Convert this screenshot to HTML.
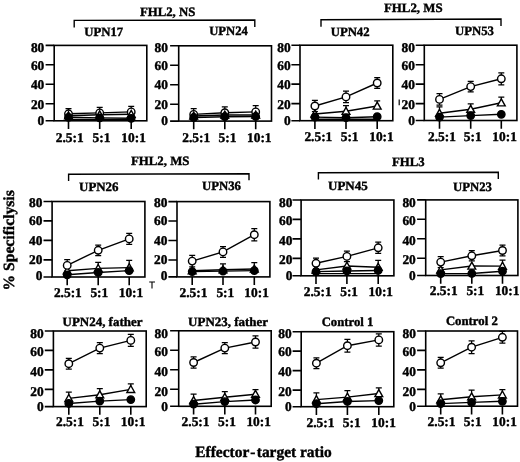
<!DOCTYPE html>
<html lang="en"><head><meta charset="utf-8"><title>Figure</title>
<style>html,body{margin:0;padding:0;background:#fff}svg text{white-space:pre;text-rendering:geometricPrecision}.t{font-family:"Liberation Serif","DejaVu Serif",serif;font-weight:bold;stroke:#000;stroke-width:.4px;stroke-linejoin:round}</style>
</head><body>
<svg width="520" height="462" viewBox="0 0 520 462" style="display:block">
<rect width="520" height="462" fill="#fff"/>
<g class="t" fill="#000">
<text x="44.3" y="51.7" font-size="13.4" text-anchor="end">80</text>
<text x="44.3" y="70.0" font-size="13.4" text-anchor="end">60</text>
<text x="44.3" y="89.3" font-size="13.4" text-anchor="end">40</text>
<text x="44.3" y="108.6" font-size="13.4" text-anchor="end">20</text>
<text x="44.3" y="125.3" font-size="13.4" text-anchor="end">0</text>
<text x="55.8" y="141.5" font-size="13.4">2.5:1</text>
<text x="92.6" y="141.5" font-size="13.4">5:1</text>
<text x="121.3" y="141.5" font-size="13.4">10:1</text>
<text x="168.0" y="51.7" font-size="13.4" text-anchor="end">80</text>
<text x="168.0" y="70.0" font-size="13.4" text-anchor="end">60</text>
<text x="168.0" y="89.3" font-size="13.4" text-anchor="end">40</text>
<text x="168.0" y="108.6" font-size="13.4" text-anchor="end">20</text>
<text x="168.0" y="125.3" font-size="13.4" text-anchor="end">0</text>
<text x="182.3" y="141.5" font-size="13.4">2.5:1</text>
<text x="218.6" y="141.5" font-size="13.4">5:1</text>
<text x="247.0" y="141.5" font-size="13.4">10:1</text>
<text x="290.6" y="51.7" font-size="13.4" text-anchor="end">80</text>
<text x="290.6" y="70.0" font-size="13.4" text-anchor="end">60</text>
<text x="290.6" y="89.3" font-size="13.4" text-anchor="end">40</text>
<text x="290.6" y="108.6" font-size="13.4" text-anchor="end">20</text>
<text x="290.6" y="125.3" font-size="13.4" text-anchor="end">0</text>
<text x="304.4" y="141.3" font-size="13.4">2.5:1</text>
<text x="340.7" y="141.3" font-size="13.4">5:1</text>
<text x="369.2" y="141.3" font-size="13.4">10:1</text>
<text x="414.9" y="51.7" font-size="13.4" text-anchor="end">80</text>
<text x="414.9" y="70.0" font-size="13.4" text-anchor="end">60</text>
<text x="414.9" y="89.3" font-size="13.4" text-anchor="end">40</text>
<text x="414.9" y="108.6" font-size="13.4" text-anchor="end">20</text>
<text x="414.9" y="125.3" font-size="13.4" text-anchor="end">0</text>
<text x="428.0" y="140.8" font-size="13.4">2.5:1</text>
<text x="463.8" y="140.8" font-size="13.4">5:1</text>
<text x="492.3" y="140.8" font-size="13.4">10:1</text>
<text x="42.4" y="206.8" font-size="13.4" text-anchor="end">80</text>
<text x="42.4" y="225.1" font-size="13.4" text-anchor="end">60</text>
<text x="42.4" y="244.6" font-size="13.4" text-anchor="end">40</text>
<text x="42.4" y="264.2" font-size="13.4" text-anchor="end">20</text>
<text x="42.4" y="280.3" font-size="13.4" text-anchor="end">0</text>
<text x="53.9" y="297.3" font-size="13.4">2.5:1</text>
<text x="90.4" y="297.3" font-size="13.4">5:1</text>
<text x="118.7" y="297.3" font-size="13.4">10:1</text>
<text x="167.4" y="206.8" font-size="13.4" text-anchor="end">80</text>
<text x="167.4" y="225.1" font-size="13.4" text-anchor="end">60</text>
<text x="167.4" y="244.6" font-size="13.4" text-anchor="end">40</text>
<text x="167.4" y="264.2" font-size="13.4" text-anchor="end">20</text>
<text x="167.4" y="280.3" font-size="13.4" text-anchor="end">0</text>
<text x="179.5" y="297.0" font-size="13.4">2.5:1</text>
<text x="216.4" y="297.0" font-size="13.4">5:1</text>
<text x="244.3" y="297.0" font-size="13.4">10:1</text>
<text x="292.4" y="206.8" font-size="13.4" text-anchor="end">80</text>
<text x="292.4" y="225.1" font-size="13.4" text-anchor="end">60</text>
<text x="292.4" y="244.6" font-size="13.4" text-anchor="end">40</text>
<text x="292.4" y="264.2" font-size="13.4" text-anchor="end">20</text>
<text x="292.4" y="280.3" font-size="13.4" text-anchor="end">0</text>
<text x="303.8" y="295.9" font-size="13.4">2.5:1</text>
<text x="340.2" y="295.9" font-size="13.4">5:1</text>
<text x="368.5" y="295.9" font-size="13.4">10:1</text>
<text x="415.8" y="206.8" font-size="13.4" text-anchor="end">80</text>
<text x="415.8" y="225.1" font-size="13.4" text-anchor="end">60</text>
<text x="415.8" y="244.6" font-size="13.4" text-anchor="end">40</text>
<text x="415.8" y="264.2" font-size="13.4" text-anchor="end">20</text>
<text x="415.8" y="280.3" font-size="13.4" text-anchor="end">0</text>
<text x="429.7" y="295.3" font-size="13.4">2.5:1</text>
<text x="466.4" y="295.3" font-size="13.4">5:1</text>
<text x="494.9" y="295.3" font-size="13.4">10:1</text>
<text x="43.7" y="337.8" font-size="13.4" text-anchor="end">80</text>
<text x="43.7" y="356.4" font-size="13.4" text-anchor="end">60</text>
<text x="43.7" y="375.9" font-size="13.4" text-anchor="end">40</text>
<text x="43.7" y="395.7" font-size="13.4" text-anchor="end">20</text>
<text x="43.7" y="411.2" font-size="13.4" text-anchor="end">0</text>
<text x="56.0" y="425.9" font-size="13.4">2.5:1</text>
<text x="92.5" y="425.9" font-size="13.4">5:1</text>
<text x="120.8" y="425.9" font-size="13.4">10:1</text>
<text x="168.0" y="337.8" font-size="13.4" text-anchor="end">80</text>
<text x="168.0" y="356.4" font-size="13.4" text-anchor="end">60</text>
<text x="168.0" y="375.9" font-size="13.4" text-anchor="end">40</text>
<text x="168.0" y="395.7" font-size="13.4" text-anchor="end">20</text>
<text x="168.0" y="411.2" font-size="13.4" text-anchor="end">0</text>
<text x="181.6" y="425.9" font-size="13.4">2.5:1</text>
<text x="218.1" y="425.9" font-size="13.4">5:1</text>
<text x="246.4" y="425.9" font-size="13.4">10:1</text>
<text x="291.7" y="337.8" font-size="13.4" text-anchor="end">80</text>
<text x="291.7" y="356.4" font-size="13.4" text-anchor="end">60</text>
<text x="291.7" y="375.9" font-size="13.4" text-anchor="end">40</text>
<text x="291.7" y="395.7" font-size="13.4" text-anchor="end">20</text>
<text x="291.7" y="411.2" font-size="13.4" text-anchor="end">0</text>
<text x="306.5" y="426.6" font-size="13.4">2.5:1</text>
<text x="342.8" y="426.6" font-size="13.4">5:1</text>
<text x="371.3" y="426.6" font-size="13.4">10:1</text>
<text x="415.9" y="337.8" font-size="13.4" text-anchor="end">80</text>
<text x="415.9" y="356.4" font-size="13.4" text-anchor="end">60</text>
<text x="415.9" y="375.9" font-size="13.4" text-anchor="end">40</text>
<text x="415.9" y="395.7" font-size="13.4" text-anchor="end">20</text>
<text x="415.9" y="411.2" font-size="13.4" text-anchor="end">0</text>
<text x="427.6" y="425.7" font-size="13.4">2.5:1</text>
<text x="463.8" y="425.7" font-size="13.4">5:1</text>
<text x="492.3" y="425.7" font-size="13.4">10:1</text>
</g>
<g fill="none" stroke="#000" stroke-width="1.6" stroke-linecap="butt">
<rect x="54.2" y="45.4" width="92.6" height="75.4"/>
<path d="M45.6 45.4H54.2M45.6 64.8H54.2M45.6 84.3H54.2M45.6 103.8H54.2M45.6 120.8H54.2M68.5 120.8V129.0M99.7 120.8V129.0M131.2 120.8V129.0"/>
<rect x="178.7" y="45.8" width="92.8" height="75.3"/>
<path d="M170.1 45.8H178.7M170.1 65.2H178.7M170.1 84.7H178.7M170.1 104.2H178.7M170.1 121.1H178.7M193.7 121.1V129.3M224.8 121.1V129.3M255.7 121.1V129.3"/>
<rect x="300.0" y="45.2" width="92.8" height="75.5"/>
<path d="M291.4 45.2H300.0M291.4 64.7H300.0M291.4 84.1H300.0M291.4 103.6H300.0M291.4 120.7H300.0M314.9 120.7V128.9M346.0 120.7V128.9M377.2 120.7V128.9"/>
<rect x="424.3" y="45.2" width="92.6" height="75.3"/>
<path d="M415.7 45.2H424.3M415.7 64.7H424.3M415.7 84.1H424.3M415.7 103.6H424.3M415.7 120.5H424.3M439.5 120.5V128.7M470.7 120.5V128.7M501.3 120.5V128.7"/>
<rect x="52.1" y="201.5" width="92.8" height="75.5"/>
<path d="M43.5 201.5H52.1M43.5 220.9H52.1M43.5 240.4H52.1M43.5 259.9H52.1M43.5 277.0H52.1M67.2 277.0V285.2M98.2 277.0V285.2M129.2 277.0V285.2"/>
<rect x="177.0" y="201.6" width="92.9" height="75.3"/>
<path d="M168.4 201.6H177.0M168.4 221.0H177.0M168.4 240.5H177.0M168.4 260.0H177.0M168.4 276.9H177.0M192.2 276.9V285.1M223.0 276.9V285.1M254.3 276.9V285.1"/>
<rect x="301.1" y="200.0" width="92.8" height="75.8"/>
<path d="M292.5 200.0H301.1M292.5 219.4H301.1M292.5 238.9H301.1M292.5 258.4H301.1M292.5 275.8H301.1M316.0 275.8V284.0M346.9 275.8V284.0M378.2 275.8V284.0"/>
<rect x="425.7" y="199.9" width="92.2" height="75.6"/>
<path d="M417.1 199.9H425.7M417.1 219.3H425.7M417.1 238.8H425.7M417.1 258.3H425.7M417.1 275.5H425.7M440.7 275.5V283.7M471.8 275.5V283.7M502.5 275.5V283.7"/>
<rect x="53.4" y="331.0" width="92.8" height="75.6"/>
<path d="M44.8 331.0H53.4M44.8 350.4H53.4M44.8 369.9H53.4M44.8 389.4H53.4M44.8 406.6H53.4M68.8 406.6V414.8M99.8 406.6V414.8M130.8 406.6V414.8"/>
<rect x="178.7" y="330.8" width="92.5" height="75.5"/>
<path d="M170.1 330.8H178.7M170.1 350.2H178.7M170.1 369.7H178.7M170.1 389.2H178.7M170.1 406.3H178.7M193.6 406.3V414.5M224.8 406.3V414.5M255.5 406.3V414.5"/>
<rect x="301.2" y="331.7" width="92.6" height="75.0"/>
<path d="M292.6 331.7H301.2M292.6 351.1H301.2M292.6 370.6H301.2M292.6 390.1H301.2M292.6 406.7H301.2M316.4 406.7V414.9M347.4 406.7V414.9M378.8 406.7V414.9"/>
<rect x="425.7" y="331.0" width="91.8" height="75.2"/>
<path d="M417.1 331.0H425.7M417.1 350.4H425.7M417.1 369.9H425.7M417.1 389.4H425.7M417.1 406.2H425.7M440.7 406.2V414.4M471.6 406.2V414.4M502.4 406.2V414.4"/>
</g>
<g stroke="#000" stroke-width="1.4" fill="none">
<path d="M68.5 117.3L99.7 117.9L131.2 118.3"/>
<path d="M68.5 115.7L99.7 114.7L131.2 114.3"/>
<path d="M68.5 113.8L99.7 112.9L131.2 111.9"/>
<path d="M68.5 119.4L131.2 119.4"/>
</g>
<g stroke="#000" stroke-width="1.25" fill="none">
<path d="M68.5 108.5V119.1M65.5 108.5H71.5M65.5 119.1H71.5"/>
<path d="M99.7 107.3V118.5M96.7 107.3H102.7M96.7 118.5H102.7"/>
<path d="M131.2 106.3V117.5M128.2 106.3H134.2M128.2 117.5H134.2"/>
</g>
<g stroke="#000" stroke-width="1.4">
<circle cx="68.5" cy="113.8" r="3.75" fill="#fff"/>
<circle cx="99.7" cy="112.9" r="3.75" fill="#fff"/>
<circle cx="131.2" cy="111.9" r="3.75" fill="#fff"/>
<path d="M68.5 111.8L72.4 118.8H64.6Z" fill="#fff"/>
<path d="M99.7 110.8L103.6 117.8H95.8Z" fill="#fff"/>
<path d="M131.2 110.4L135.1 117.4H127.3Z" fill="#fff"/>
<circle cx="68.5" cy="117.3" r="3.7" fill="#000"/>
<circle cx="99.7" cy="117.9" r="3.7" fill="#000"/>
<circle cx="131.2" cy="118.3" r="3.7" fill="#000"/>
</g>
<g stroke="#000" stroke-width="1.4" fill="none">
<path d="M193.7 117.5L224.8 116.7L255.7 116.5"/>
<path d="M193.7 116.0L224.8 115.0L255.7 115.0"/>
<path d="M193.7 114.4L224.8 112.7L255.7 111.9"/>
</g>
<g stroke="#000" stroke-width="1.25" fill="none">
<path d="M193.7 108.5V120.3M190.7 108.5H196.7M190.7 120.3H196.7"/>
<path d="M224.8 106.8V118.6M221.8 106.8H227.8M221.8 118.6H227.8"/>
<path d="M255.7 105.7V118.1M252.7 105.7H258.7M252.7 118.1H258.7"/>
</g>
<g stroke="#000" stroke-width="1.4">
<circle cx="193.7" cy="114.4" r="3.75" fill="#fff"/>
<circle cx="224.8" cy="112.7" r="3.75" fill="#fff"/>
<circle cx="255.7" cy="111.9" r="3.75" fill="#fff"/>
<path d="M193.7 112.1L197.6 119.1H189.8Z" fill="#fff"/>
<path d="M224.8 111.1L228.7 118.1H220.9Z" fill="#fff"/>
<path d="M255.7 111.1L259.6 118.1H251.8Z" fill="#fff"/>
<circle cx="193.7" cy="117.5" r="3.7" fill="#000"/>
<circle cx="224.8" cy="116.7" r="3.7" fill="#000"/>
<circle cx="255.7" cy="116.5" r="3.7" fill="#000"/>
</g>
<g stroke="#000" stroke-width="1.4" fill="none">
<path d="M314.9 117.1L346.0 117.7L377.2 116.7"/>
<path d="M314.9 114.0L346.0 111.3L377.2 106.0"/>
<path d="M314.9 106.0L346.0 96.9L377.2 83.0"/>
<path d="M314.9 119.2L377.2 119.2"/>
</g>
<g stroke="#000" stroke-width="1.25" fill="none">
<path d="M346.0 111.3V105.6M343.0 105.6H349.0"/>
<path d="M377.2 106.0V100.8M374.2 100.8H380.2"/>
<path d="M314.9 100.4V111.6M311.9 100.4H317.9M311.9 111.6H317.9"/>
<path d="M346.0 91.2V102.6M343.0 91.2H349.0M343.0 102.6H349.0"/>
<path d="M377.2 77.6V88.4M374.2 77.6H380.2M374.2 88.4H380.2"/>
</g>
<g stroke="#000" stroke-width="1.4">
<path d="M314.9 110.1L318.8 117.1H311.0Z" fill="#fff"/>
<path d="M346.0 107.4L349.9 114.4H342.1Z" fill="#fff"/>
<path d="M377.2 102.1L381.1 109.1H373.3Z" fill="#fff"/>
<circle cx="314.9" cy="117.1" r="3.7" fill="#000"/>
<circle cx="346.0" cy="117.7" r="3.7" fill="#000"/>
<circle cx="377.2" cy="116.7" r="3.7" fill="#000"/>
<circle cx="314.9" cy="106.0" r="3.75" fill="#fff"/>
<circle cx="346.0" cy="96.9" r="3.75" fill="#fff"/>
<circle cx="377.2" cy="83.0" r="3.75" fill="#fff"/>
</g>
<g stroke="#000" stroke-width="1.4" fill="none">
<path d="M439.5 117.1L470.7 115.6L501.3 114.3"/>
<path d="M439.5 113.2L470.7 109.2L501.3 102.8"/>
<path d="M439.5 99.4L470.7 86.6L501.3 78.8"/>
</g>
<g stroke="#000" stroke-width="1.25" fill="none">
<path d="M439.5 113.2V106.8M436.5 106.8H442.5"/>
<path d="M470.7 109.2V103.9M467.7 103.9H473.7"/>
<path d="M501.3 102.8V97.0M498.3 97.0H504.3"/>
<path d="M439.5 93.7V105.1M436.5 93.7H442.5M436.5 105.1H442.5"/>
<path d="M470.7 81.3V91.9M467.7 81.3H473.7M467.7 91.9H473.7"/>
<path d="M501.3 72.8V84.8M498.3 72.8H504.3M498.3 84.8H504.3"/>
</g>
<g stroke="#000" stroke-width="1.4">
<path d="M439.5 109.3L443.4 116.3H435.6Z" fill="#fff"/>
<path d="M470.7 105.3L474.6 112.3H466.8Z" fill="#fff"/>
<path d="M501.3 98.9L505.2 105.9H497.4Z" fill="#fff"/>
<circle cx="439.5" cy="117.1" r="3.7" fill="#000"/>
<circle cx="470.7" cy="115.6" r="3.7" fill="#000"/>
<circle cx="501.3" cy="114.3" r="3.7" fill="#000"/>
<circle cx="439.5" cy="99.4" r="3.75" fill="#fff"/>
<circle cx="470.7" cy="86.6" r="3.75" fill="#fff"/>
<circle cx="501.3" cy="78.8" r="3.75" fill="#fff"/>
</g>
<g stroke="#000" stroke-width="1.4" fill="none">
<path d="M67.2 274.8L98.2 272.5L129.2 270.6"/>
<path d="M67.2 270.8L98.2 268.4L129.2 267.6"/>
<path d="M67.2 265.4L98.2 250.3L129.2 238.9"/>
</g>
<g stroke="#000" stroke-width="1.25" fill="none">
<path d="M98.2 268.4V262.3M95.2 262.3H101.2"/>
<path d="M129.2 267.6V260.4M126.2 260.4H132.2"/>
<path d="M67.2 259.6V271.2M64.2 259.6H70.2M64.2 271.2H70.2"/>
<path d="M98.2 245.0V255.6M95.2 245.0H101.2M95.2 255.6H101.2"/>
<path d="M129.2 233.4V244.4M126.2 233.4H132.2M126.2 244.4H132.2"/>
</g>
<g stroke="#000" stroke-width="1.4">
<path d="M67.2 266.9L71.1 273.9H63.3Z" fill="#fff"/>
<path d="M98.2 264.5L102.1 271.5H94.3Z" fill="#fff"/>
<path d="M129.2 263.7L133.1 270.7H125.3Z" fill="#fff"/>
<circle cx="67.2" cy="274.8" r="3.7" fill="#000"/>
<circle cx="98.2" cy="272.5" r="3.7" fill="#000"/>
<circle cx="129.2" cy="270.6" r="3.7" fill="#000"/>
<circle cx="67.2" cy="265.4" r="3.75" fill="#fff"/>
<circle cx="98.2" cy="250.3" r="3.75" fill="#fff"/>
<circle cx="129.2" cy="238.9" r="3.75" fill="#fff"/>
</g>
<g stroke="#000" stroke-width="1.4" fill="none">
<path d="M192.2 271.6L223.0 271.1L254.3 270.6"/>
<path d="M192.2 270.8L223.0 269.7L254.3 269.0"/>
<path d="M192.2 261.1L223.0 251.9L254.3 234.7"/>
</g>
<g stroke="#000" stroke-width="1.25" fill="none">
<path d="M223.0 269.7V263.9M220.0 263.9H226.0"/>
<path d="M254.3 269.0V262.6M251.3 262.6H257.3"/>
<path d="M192.2 255.4V266.8M189.2 255.4H195.2M189.2 266.8H195.2"/>
<path d="M223.0 246.5V257.3M220.0 246.5H226.0M220.0 257.3H226.0"/>
<path d="M254.3 228.5V240.9M251.3 228.5H257.3M251.3 240.9H257.3"/>
</g>
<g stroke="#000" stroke-width="1.4">
<path d="M192.2 266.9L196.1 273.9H188.3Z" fill="#fff"/>
<path d="M223.0 265.8L226.9 272.8H219.1Z" fill="#fff"/>
<path d="M254.3 265.1L258.2 272.1H250.4Z" fill="#fff"/>
<circle cx="192.2" cy="271.6" r="3.7" fill="#000"/>
<circle cx="223.0" cy="271.1" r="3.7" fill="#000"/>
<circle cx="254.3" cy="270.6" r="3.7" fill="#000"/>
<circle cx="192.2" cy="261.1" r="3.75" fill="#fff"/>
<circle cx="223.0" cy="251.9" r="3.75" fill="#fff"/>
<circle cx="254.3" cy="234.7" r="3.75" fill="#fff"/>
</g>
<g stroke="#000" stroke-width="1.4" fill="none">
<path d="M316.0 271.6L346.9 271.0L378.2 270.5"/>
<path d="M316.0 269.9L346.9 266.0L378.2 267.2"/>
<path d="M316.0 263.3L346.9 256.4L378.2 247.8"/>
<path d="M316.0 273.6L378.2 273.6"/>
</g>
<g stroke="#000" stroke-width="1.25" fill="none">
<path d="M378.2 267.2V260.4M375.2 260.4H381.2"/>
<path d="M316.0 258.0V268.6M313.0 258.0H319.0M313.0 268.6H319.0"/>
<path d="M346.9 251.1V261.7M343.9 251.1H349.9M343.9 261.7H349.9"/>
<path d="M378.2 242.2V253.4M375.2 242.2H381.2M375.2 253.4H381.2"/>
</g>
<g stroke="#000" stroke-width="1.4">
<path d="M316.0 266.0L319.9 273.0H312.1Z" fill="#fff"/>
<path d="M346.9 262.1L350.8 269.1H343.0Z" fill="#fff"/>
<path d="M378.2 263.3L382.1 270.3H374.3Z" fill="#fff"/>
<circle cx="316.0" cy="271.6" r="3.7" fill="#000"/>
<circle cx="346.9" cy="271.0" r="3.7" fill="#000"/>
<circle cx="378.2" cy="270.5" r="3.7" fill="#000"/>
<circle cx="316.0" cy="263.3" r="3.75" fill="#fff"/>
<circle cx="346.9" cy="256.4" r="3.75" fill="#fff"/>
<circle cx="378.2" cy="247.8" r="3.75" fill="#fff"/>
</g>
<g stroke="#000" stroke-width="1.4" fill="none">
<path d="M440.7 273.6L471.8 273.5L502.5 271.2"/>
<path d="M440.7 269.9L471.8 266.0L502.5 266.1"/>
<path d="M440.7 262.1L471.8 255.8L502.5 250.5"/>
</g>
<g stroke="#000" stroke-width="1.25" fill="none">
<path d="M502.5 266.1V260.1M499.5 260.1H505.5"/>
<path d="M440.7 256.7V267.5M437.7 256.7H443.7M437.7 267.5H443.7"/>
<path d="M471.8 250.7V260.9M468.8 250.7H474.8M468.8 260.9H474.8"/>
<path d="M502.5 245.2V255.8M499.5 245.2H505.5M499.5 255.8H505.5"/>
</g>
<g stroke="#000" stroke-width="1.4">
<path d="M440.7 266.0L444.6 273.0H436.8Z" fill="#fff"/>
<path d="M471.8 262.1L475.7 269.1H467.9Z" fill="#fff"/>
<path d="M502.5 262.2L506.4 269.2H498.6Z" fill="#fff"/>
<circle cx="440.7" cy="273.6" r="3.7" fill="#000"/>
<circle cx="471.8" cy="273.5" r="3.7" fill="#000"/>
<circle cx="502.5" cy="271.2" r="3.7" fill="#000"/>
<circle cx="440.7" cy="262.1" r="3.75" fill="#fff"/>
<circle cx="471.8" cy="255.8" r="3.75" fill="#fff"/>
<circle cx="502.5" cy="250.5" r="3.75" fill="#fff"/>
</g>
<g stroke="#000" stroke-width="1.4" fill="none">
<path d="M68.8 403.5L99.8 401.1L130.8 399.6"/>
<path d="M68.8 398.4L99.8 394.7L130.8 389.4"/>
<path d="M68.8 363.7L99.8 348.1L130.8 340.4"/>
</g>
<g stroke="#000" stroke-width="1.25" fill="none">
<path d="M68.8 398.4V392.0M65.8 392.0H71.8"/>
<path d="M99.8 394.7V388.7M96.8 388.7H102.8"/>
<path d="M130.8 389.4V383.8M127.8 383.8H133.8"/>
<path d="M68.8 358.3V369.1M65.8 358.3H71.8M65.8 369.1H71.8"/>
<path d="M99.8 342.7V353.5M96.8 342.7H102.8M96.8 353.5H102.8"/>
<path d="M130.8 334.4V346.4M127.8 334.4H133.8M127.8 346.4H133.8"/>
</g>
<g stroke="#000" stroke-width="1.4">
<path d="M68.8 394.5L72.7 401.5H64.9Z" fill="#fff"/>
<path d="M99.8 390.8L103.7 397.8H95.9Z" fill="#fff"/>
<path d="M130.8 385.5L134.7 392.5H126.9Z" fill="#fff"/>
<circle cx="68.8" cy="403.5" r="3.7" fill="#000"/>
<circle cx="99.8" cy="401.1" r="3.7" fill="#000"/>
<circle cx="130.8" cy="399.6" r="3.7" fill="#000"/>
<circle cx="68.8" cy="363.7" r="3.75" fill="#fff"/>
<circle cx="99.8" cy="348.1" r="3.75" fill="#fff"/>
<circle cx="130.8" cy="340.4" r="3.75" fill="#fff"/>
</g>
<g stroke="#000" stroke-width="1.4" fill="none">
<path d="M193.6 404.2L224.8 401.6L255.5 400.0"/>
<path d="M193.6 400.5L224.8 397.3L255.5 394.2"/>
<path d="M193.6 362.5L224.8 348.1L255.5 342.0"/>
</g>
<g stroke="#000" stroke-width="1.25" fill="none">
<path d="M193.6 400.5V394.2M190.6 394.2H196.6"/>
<path d="M224.8 397.3V391.6M221.8 391.6H227.8"/>
<path d="M255.5 394.2V389.6M252.5 389.6H258.5"/>
<path d="M193.6 356.9V368.1M190.6 356.9H196.6M190.6 368.1H196.6"/>
<path d="M224.8 342.6V353.6M221.8 342.6H227.8M221.8 353.6H227.8"/>
<path d="M255.5 335.9V348.1M252.5 335.9H258.5M252.5 348.1H258.5"/>
</g>
<g stroke="#000" stroke-width="1.4">
<path d="M193.6 396.6L197.5 403.6H189.7Z" fill="#fff"/>
<path d="M224.8 393.4L228.7 400.4H220.9Z" fill="#fff"/>
<path d="M255.5 390.3L259.4 397.3H251.6Z" fill="#fff"/>
<circle cx="193.6" cy="404.2" r="3.7" fill="#000"/>
<circle cx="224.8" cy="401.6" r="3.7" fill="#000"/>
<circle cx="255.5" cy="400.0" r="3.7" fill="#000"/>
<circle cx="193.6" cy="362.5" r="3.75" fill="#fff"/>
<circle cx="224.8" cy="348.1" r="3.75" fill="#fff"/>
<circle cx="255.5" cy="342.0" r="3.75" fill="#fff"/>
</g>
<g stroke="#000" stroke-width="1.4" fill="none">
<path d="M316.4 403.7L347.4 401.5L378.8 400.6"/>
<path d="M316.4 399.6L347.4 397.1L378.8 393.5"/>
<path d="M316.4 363.2L347.4 345.7L378.8 339.9"/>
</g>
<g stroke="#000" stroke-width="1.25" fill="none">
<path d="M316.4 399.6V392.9M313.4 392.9H319.4"/>
<path d="M347.4 397.1V390.7M344.4 390.7H350.4"/>
<path d="M378.8 393.5V387.8M375.8 387.8H381.8"/>
<path d="M316.4 357.8V368.6M313.4 357.8H319.4M313.4 368.6H319.4"/>
<path d="M347.4 339.4V352.0M344.4 339.4H350.4M344.4 352.0H350.4"/>
<path d="M378.8 333.8V346.0M375.8 333.8H381.8M375.8 346.0H381.8"/>
</g>
<g stroke="#000" stroke-width="1.4">
<path d="M316.4 395.7L320.3 402.7H312.5Z" fill="#fff"/>
<path d="M347.4 393.2L351.3 400.2H343.5Z" fill="#fff"/>
<path d="M378.8 389.6L382.7 396.6H374.9Z" fill="#fff"/>
<circle cx="316.4" cy="403.7" r="3.7" fill="#000"/>
<circle cx="347.4" cy="401.5" r="3.7" fill="#000"/>
<circle cx="378.8" cy="400.6" r="3.7" fill="#000"/>
<circle cx="316.4" cy="363.2" r="3.75" fill="#fff"/>
<circle cx="347.4" cy="345.7" r="3.75" fill="#fff"/>
<circle cx="378.8" cy="339.9" r="3.75" fill="#fff"/>
</g>
<g stroke="#000" stroke-width="1.4" fill="none">
<path d="M440.7 403.6L471.6 402.4L502.4 401.3"/>
<path d="M440.7 399.8L471.6 396.8L502.4 394.9"/>
<path d="M440.7 362.8L471.6 347.2L502.4 337.3"/>
</g>
<g stroke="#000" stroke-width="1.25" fill="none">
<path d="M440.7 399.8V393.8M437.7 393.8H443.7"/>
<path d="M471.6 396.8V390.2M468.6 390.2H474.6"/>
<path d="M502.4 394.9V389.6M499.4 389.6H505.4"/>
<path d="M440.7 357.4V368.2M437.7 357.4H443.7M437.7 368.2H443.7"/>
<path d="M471.6 340.8V353.6M468.6 340.8H474.6M468.6 353.6H474.6"/>
<path d="M502.4 331.4V343.2M499.4 331.4H505.4M499.4 343.2H505.4"/>
</g>
<g stroke="#000" stroke-width="1.4">
<path d="M440.7 395.9L444.6 402.9H436.8Z" fill="#fff"/>
<path d="M471.6 392.9L475.5 399.9H467.7Z" fill="#fff"/>
<path d="M502.4 391.0L506.3 398.0H498.5Z" fill="#fff"/>
<circle cx="440.7" cy="403.6" r="3.7" fill="#000"/>
<circle cx="471.6" cy="402.4" r="3.7" fill="#000"/>
<circle cx="502.4" cy="401.3" r="3.7" fill="#000"/>
<circle cx="440.7" cy="362.8" r="3.75" fill="#fff"/>
<circle cx="471.6" cy="347.2" r="3.75" fill="#fff"/>
<circle cx="502.4" cy="337.3" r="3.75" fill="#fff"/>
</g>
<g fill="none" stroke="#000" stroke-width="1.4">
<path d="M74.2 27.4V20.4L254.8 20.0V27.0"/>
<path d="M321 26.7V19.7L501 19.0V26.0"/>
<path d="M68.6 180.9V174.3L249 173.7V180.29999999999998"/>
<path d="M318.4 179.60000000000002V172.8L498.3 172.2V179.0"/>
<path d="M399.2 99.6V105.3" stroke-width="1.2"/>
<path d="M149.2 282H155M152 282V288.6" stroke-width="1.1"/>
</g>
<g class="t" fill="#000">
<text x="139.9" y="15.6" font-size="12.8" textLength="55.4" lengthAdjust="spacingAndGlyphs">FHL2, NS</text>
<text x="384.0" y="11.6" font-size="12.8" textLength="58.6" lengthAdjust="spacingAndGlyphs">FHL2, MS</text>
<text x="130.9" y="165.0" font-size="12.8" textLength="58.6" lengthAdjust="spacingAndGlyphs">FHL2, MS</text>
<text x="392.0" y="166.2" font-size="12.8" textLength="32.7" lengthAdjust="spacingAndGlyphs">FHL3</text>
<text x="84.3" y="36.4" font-size="12.8" textLength="38.9" lengthAdjust="spacingAndGlyphs">UPN17</text>
<text x="209.2" y="35.1" font-size="12.8" textLength="38.6" lengthAdjust="spacingAndGlyphs">UPN24</text>
<text x="330.7" y="36.4" font-size="12.8" textLength="38.9" lengthAdjust="spacingAndGlyphs">UPN42</text>
<text x="455.0" y="34.9" font-size="12.8" textLength="39.0" lengthAdjust="spacingAndGlyphs">UPN53</text>
<text x="79.1" y="190.8" font-size="12.8" textLength="39.4" lengthAdjust="spacingAndGlyphs">UPN26</text>
<text x="202.0" y="190.2" font-size="12.8" textLength="38.9" lengthAdjust="spacingAndGlyphs">UPN36</text>
<text x="328.1" y="190.2" font-size="12.8" textLength="39.6" lengthAdjust="spacingAndGlyphs">UPN45</text>
<text x="453.0" y="190.6" font-size="12.8" textLength="38.9" lengthAdjust="spacingAndGlyphs">UPN23</text>
<text x="62.6" y="326.2" font-size="12.8" textLength="79.8" lengthAdjust="spacingAndGlyphs">UPN24, father</text>
<text x="188.1" y="326.2" font-size="12.8" textLength="80.0" lengthAdjust="spacingAndGlyphs">UPN23, father</text>
<text x="321.7" y="325.7" font-size="12.8" textLength="51.7" lengthAdjust="spacingAndGlyphs">Control 1</text>
<text x="445.9" y="325.1" font-size="12.8" textLength="51.9" lengthAdjust="spacingAndGlyphs">Control 2</text>
<text x="195.3" y="456.8" font-size="15.6" textLength="136.4" lengthAdjust="spacingAndGlyphs">Effector<tspan dx="1.5">-</tspan><tspan dx="1.5">target ratio</tspan></text>
<text transform="translate(13.5 290.5) rotate(-90)" font-size="15.6" textLength="100.3" lengthAdjust="spacingAndGlyphs">% Specificlysis</text>
</g>
</svg>
</body></html>
